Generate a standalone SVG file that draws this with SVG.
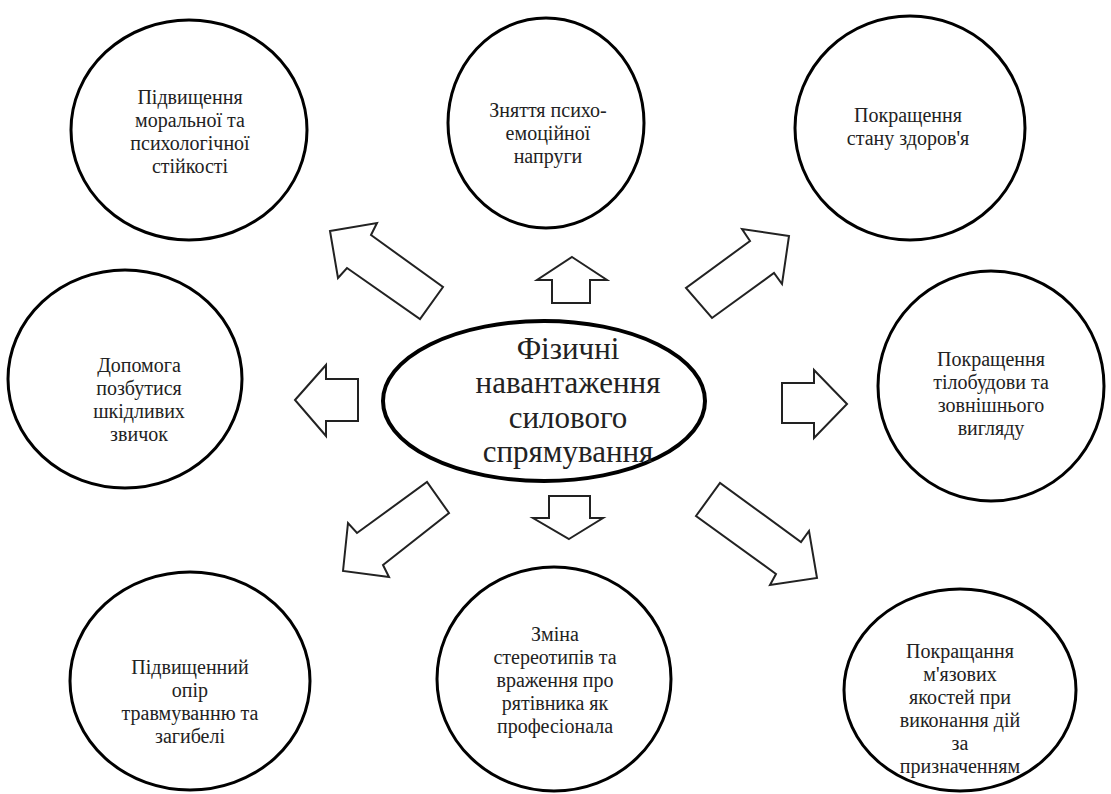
<svg xmlns="http://www.w3.org/2000/svg" width="1111" height="794" viewBox="0 0 1111 794">
<style>
.c{fill:#fff;stroke:#000;stroke-width:3}
.m{fill:#fff;stroke:#000;stroke-width:4}
.a{fill:#fff;stroke:#222;stroke-width:2;stroke-linejoin:miter}
.t{font-family:'Liberation Serif','Times New Roman',serif;font-size:20px;fill:#222;text-anchor:middle}
.b{font-family:'Liberation Serif','Times New Roman',serif;font-size:31px;fill:#222;text-anchor:middle}
</style>
<rect width="1111" height="794" fill="#fff"/>
<g id="connectors">
<polygon class="a" points="572,257 607,280 590,280 590,303 552,303 552,280 537,280"/>
<polygon class="a" points="569,539 603,518 590,518 590,496 549,496 549,518 533,518"/>
<polygon class="a" points="295,400 326,365 326,379 358,379 358,421 326,421 326,436"/>
<polygon class="a" points="847,404 814,370 814,383 782,383 782,423 814,423 814,438"/>
<polygon class="a" points="330,231 377,223 371,235 443,287 420,319 347,268 338,278"/>
<polygon class="a" points="789,236 742,229 750,241 686,288 712,318 774,273 782,284"/>
<polygon class="a" points="343,571 348,523 357,533 427,482 449,513 383,565 389,577"/>
<polygon class="a" points="817,578 809,531 801,542 720,483 696,516 776,574 770,585"/>
</g>
<g id="n1"><ellipse class="c" cx="189" cy="130" rx="118" ry="110"/>
<text class="t" x="190" y="104">Підвищення</text><text class="t" x="190" y="127">моральної та</text><text class="t" x="190" y="150">психологічної</text><text class="t" x="190" y="173">стійкості</text></g>
<g id="n2"><ellipse class="c" cx="546" cy="123" rx="98" ry="105"/>
<text class="t" x="548" y="117">Зняття психо-</text><text class="t" x="548" y="140">емоційної</text><text class="t" x="548" y="163">напруги</text></g>
<g id="n3"><ellipse class="c" cx="910" cy="128" rx="115" ry="112"/>
<text class="t" x="908" y="122">Покращення</text><text class="t" x="908" y="145">стану здоров'я</text></g>
<g id="n4"><ellipse class="c" cx="125" cy="379" rx="117" ry="109"/>
<text class="t" x="139" y="372">Допомога</text><text class="t" x="139" y="395">позбутися</text><text class="t" x="139" y="418">шкідливих</text><text class="t" x="139" y="441">звичок</text></g>
<g id="n5"><ellipse class="c" cx="991" cy="386" rx="113" ry="115"/>
<text class="t" x="991" y="366">Покращення</text><text class="t" x="991" y="389">тілобудови та</text><text class="t" x="991" y="412">зовнішнього</text><text class="t" x="991" y="435">вигляду</text></g>
<g id="n6"><ellipse class="c" cx="190" cy="681" rx="120" ry="109"/>
<text class="t" x="190" y="674">Підвищенний</text><text class="t" x="190" y="697">опір</text><text class="t" x="190" y="720">травмуванню та</text><text class="t" x="190" y="743">загибелі</text></g>
<g id="n7"><ellipse class="c" cx="554" cy="679" rx="117" ry="112"/>
<text class="t" x="555" y="641">Зміна</text><text class="t" x="555" y="664">стереотипів та</text><text class="t" x="555" y="687">враження про</text><text class="t" x="555" y="710">рятівника як</text><text class="t" x="555" y="733">професіонала</text></g>
<g id="n8"><ellipse class="c" cx="960" cy="690" rx="116" ry="101"/>
<text class="t" x="960" y="658">Покращання</text><text class="t" x="960" y="681">м'язових</text><text class="t" x="960" y="704">якостей при</text><text class="t" x="960" y="727">виконання дій</text><text class="t" x="960" y="750">за</text><text class="t" x="960" y="773">призначенням</text></g>
<g id="center"><ellipse class="m" cx="544" cy="401" rx="161" ry="80"/>
<text class="b" x="568" y="359">Фізичні</text><text class="b" x="568" y="393">навантаження</text><text class="b" x="568" y="428">силового</text><text class="b" x="568" y="462">спрямування</text></g>
</svg>
